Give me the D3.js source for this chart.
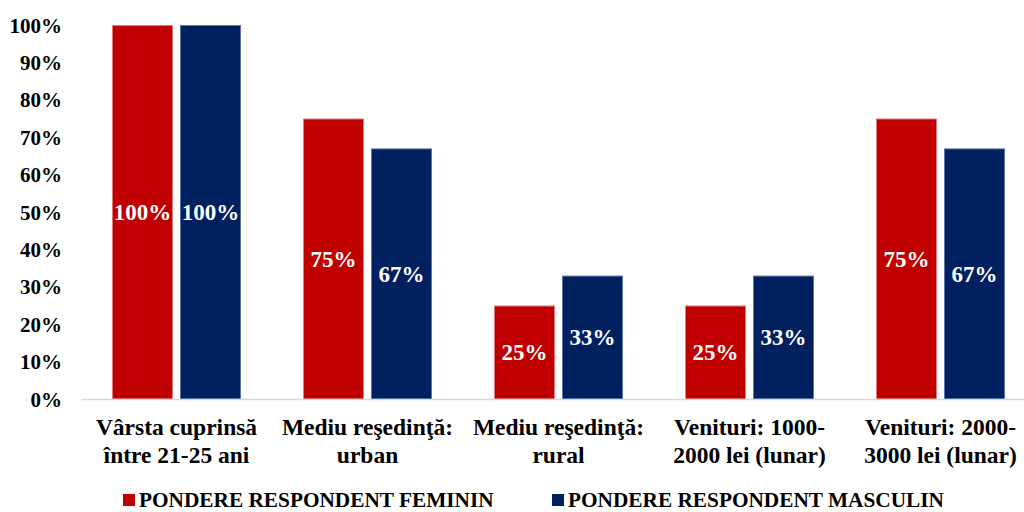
<!DOCTYPE html>
<html>
<head>
<meta charset="utf-8">
<script src="https://cdn.jsdelivr.net/npm/d3@7/dist/d3.min.js"></script>
<style>
  html, body { margin: 0; padding: 0; background: #fff; }
  svg { display: block; }
  svg text { font-family: "Liberation Serif", "Times New Roman", serif; font-weight: bold; }
</style>
</head>
<body>
<svg id="chart" width="1024" height="512"></svg>
<script>
// Share of respondents by gender for each profile group
const categories = [
  ["Vârsta cuprinsă", "între 21-25 ani"],
  ["Mediu reşedinţă:", "urban"],
  ["Mediu reşedinţă:", "rural"],
  ["Venituri: 1000-", "2000 lei (lunar)"],
  ["Venituri: 2000-", "3000 lei (lunar)"]
];
const seriesNames = ["PONDERE RESPONDENT FEMININ", "PONDERE RESPONDENT MASCULIN"];
const feminin = [100, 75, 25, 25, 75];
const masculin = [100, 67, 33, 33, 67];
const yTicks = [0, 10, 20, 30, 40, 50, 60, 70, 80, 90, 100];
const colors = ["#C00000", "#002060"];
const strokes = ["#E07a7a", "#5a74a8"];

const svg = d3.select("#chart");
const plotLeft = 81, plotRight = 1036, plotTop = 25, plotBottom = 399;

const x0 = d3.scaleBand().domain(d3.range(categories.length)).range([plotLeft, plotRight]).padding(0);
const x1 = d3.scaleBand().domain([0, 1])
  .range([31, 31 + 129]).paddingInner(7 / 68).paddingOuter(0);
const y = d3.scaleLinear().domain([0, 100]).range([plotBottom, plotTop]);

// Y axis labels
const yAxis = d3.axisLeft(y).tickValues(yTicks).tickFormat(d => d + "%").tickSize(0).tickPadding(0);
const gy = svg.append("g").attr("transform", `translate(62,0)`).call(yAxis)
  .attr("font-family", null).attr("font-size", null);
gy.select(".domain").remove();
gy.selectAll("text")
  .attr("font-size", 21)
  .attr("fill", "#000")
  .attr("dy", "0.34em");

const data = categories.map((c, i) => ({ i, vals: [feminin[i], masculin[i]] }));

const groups = svg.append("g").selectAll("g").data(data).join("g")
  .attr("transform", d => `translate(${x0(d.i)},0)`);

groups.selectAll("rect").data(d => d.vals.map((v, s) => ({ v, s }))).join("rect")
  .attr("x", d => x1(d.s) + 0.5)
  .attr("y", d => y(d.v) + 0.5)
  .attr("width", x1.bandwidth() - 1)
  .attr("height", d => y(0) - y(d.v) - 0.5)
  .attr("fill", d => colors[d.s])
  .attr("stroke", d => strokes[d.s])
  .attr("stroke-width", 1);

groups.selectAll("text.val").data(d => d.vals.map((v, s) => ({ v, s }))).join("text")
  .attr("class", "val")
  .attr("x", d => x1(d.s) + x1.bandwidth() / 2)
  .attr("y", d => (y(d.v) + y(0)) / 2)
  .attr("dy", "0.35em")
  .attr("text-anchor", "middle")
  .attr("fill", "#fff")
  .attr("font-size", 23)
  .text(d => d.v + "%");

// Baseline
svg.append("line")
  .attr("x1", plotLeft).attr("x2", 1024)
  .attr("y1", y(0) + 0.5).attr("y2", y(0) + 0.5)
  .attr("stroke", "#d9d9d9").attr("stroke-width", 1.5);

// Category labels (two lines each)
const xAxis = d3.axisBottom(x0).tickSize(0).tickFormat(() => "");
const gx = svg.append("g").attr("transform", `translate(0,${plotBottom})`).call(xAxis)
  .attr("font-family", null).attr("font-size", null);
gx.select(".domain").remove();
gx.selectAll(".tick text").remove();
gx.selectAll(".tick").append("text")
  .attr("text-anchor", "middle")
  .attr("fill", "#000")
  .attr("font-size", 23.5)
  .selectAll("tspan").data(i => categories[i]).join("tspan")
  .attr("x", 0)
  .attr("y", (d, k) => 36 + k * 28)
  .text(d => d);

// Legend
const legend = svg.append("g");
const legendX = [123, 552];
seriesNames.forEach((name, s) => {
  legend.append("rect")
    .attr("x", legendX[s]).attr("y", 494)
    .attr("width", 12).attr("height", 12)
    .attr("fill", colors[s]);
  legend.append("text")
    .attr("x", legendX[s] + 16).attr("y", 507)
    .attr("font-size", 21.3)
    .attr("fill", "#000")
    .text(name);
});
</script>
</body>
</html>
